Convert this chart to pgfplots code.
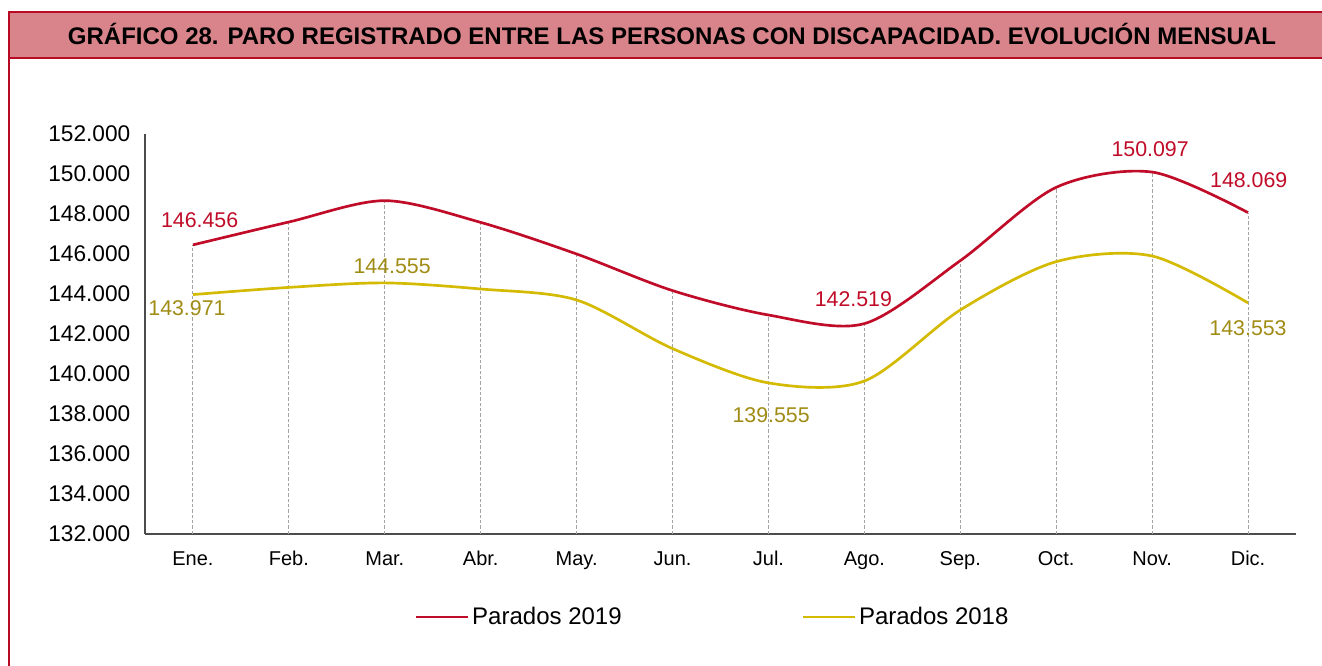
\documentclass[border=0pt]{standalone}
\usepackage{fontspec}
\setmainfont{Liberation Sans}
\usepackage{pgfplots}
\usepackage{pgfplotstable}
\pgfplotsset{compat=1.18}
\definecolor{c19}{RGB}{192,12,40}
\definecolor{c18}{RGB}{212,186,0}
\definecolor{c18t}{RGB}{160,140,20}
\definecolor{tfill}{RGB}{217,131,138}
\definecolor{tborder}{RGB}{185,10,35}
\definecolor{dropc}{RGB}{165,165,165}

\pgfplotstableread{
m y19 y18
0 146456 143971
1 147600 144330
2 148667 144555
3 147580 144250
4 146000 143700
5 144170 141270
6 142950 139555
7 142519 139650
8 145667 143200
9 149333 145617
10 150097 145900
11 148069 143553
}\datatab

\pgfplotsset{
  lab/.style n args={3}{forget plot, draw=none, mark=none,
    nodes near coords, point meta=explicit symbolic,
    every node near coord/.style={anchor=center, xshift=#1, yshift=#2, text=#3,
      font=\fontsize{16}{19}\selectfont, inner sep=0pt}}
}

\begin{document}
\begin{tikzpicture}
\useasboundingbox (0,0) rectangle (991.5pt,498.75pt);
\fill[white] (0,0) rectangle (991.5pt,498.75pt);
\filldraw[fill=tfill, draw=tborder, line width=1.5pt] (6.4pt,455.25pt) rectangle (1000pt,490.1pt);
\draw[tborder, line width=1.5pt] (6.4pt,-2pt) -- (6.4pt,490.1pt);
\node[font=\fontsize{18}{21}\selectfont\bfseries, inner sep=0pt] at (504pt,472.9pt) {GRÁFICO 28. PARO REGISTRADO ENTRE LAS PERSONAS CON DISCAPACIDAD. EVOLUCIÓN MENSUAL};

\begin{axis}[
  at={(108.75pt,98.25pt)}, anchor=south west,
  scale only axis, width=863.25pt, height=300pt,
  xmin=-0.5, xmax=11.5, ymin=132000, ymax=152000,
  axis x line*=bottom, axis y line*=left,
  axis line style={draw=black!70, line width=0.9pt, -},
  xtick={0,...,11},
  xticklabels={Ene.,Feb.,Mar.,Abr.,May.,Jun.,Jul.,Ago.,Sep.,Oct.,Nov.,Dic.},
  ytick={132000,134000,...,152000},
  scaled y ticks=false,
  major tick length=0pt,
  yticklabel style={font=\fontsize{17}{20}\selectfont, /pgf/number format/fixed, /pgf/number format/1000 sep={.}, /pgf/number format/assume math mode=true, xshift=-7.5pt},
  xticklabel style={font=\fontsize{15}{18}\selectfont, yshift=-9.5pt},
  legend style={at={(0.4935,-0.2075)}, anchor=center, draw=none, fill=none,
    legend columns=2, font=\fontsize{18}{21}\selectfont,
    /tikz/every even column/.append style={column sep=133pt}},
  legend image code/.code={\draw[#1] (0pt,0pt) -- (39pt,0pt);},
]
\addplot[ycomb, draw=dropc, line width=0.75pt, dash pattern=on 2.5pt off 1.5pt, mark=none, forget plot] table[x=m, y=y19] {\datatab};
\addplot[c19, line width=2pt, smooth, tension=0.5, mark=none] table[x=m, y=y19] {\datatab};
\addlegendentry{Parados 2019}
\addplot[c18, line width=2pt, smooth, tension=0.5, mark=none] table[x=m, y=y18] {\datatab};
\addlegendentry{Parados 2018}

\addplot[lab={5pt}{18.75pt}{c19}] coordinates {(0,146456) [146.456]};
\addplot[lab={-8.25pt}{18pt}{c19}] coordinates {(7,142519) [142.519]};
\addplot[lab={-1.5pt}{17pt}{c19}] coordinates {(10,150097) [150.097]};
\addplot[lab={0.5pt}{24pt}{c19}] coordinates {(11,148069) [148.069]};
\addplot[lab={-4.5pt}{-10pt}{c18t}] coordinates {(0,143971) [143.971]};
\addplot[lab={5.5pt}{12.75pt}{c18t}] coordinates {(2,144555) [144.555]};
\addplot[lab={2pt}{-24.5pt}{c18t}] coordinates {(6,139555) [139.555]};
\addplot[lab={0pt}{-19pt}{c18t}] coordinates {(11,143553) [143.553]};
\end{axis}
\end{tikzpicture}
\end{document}
